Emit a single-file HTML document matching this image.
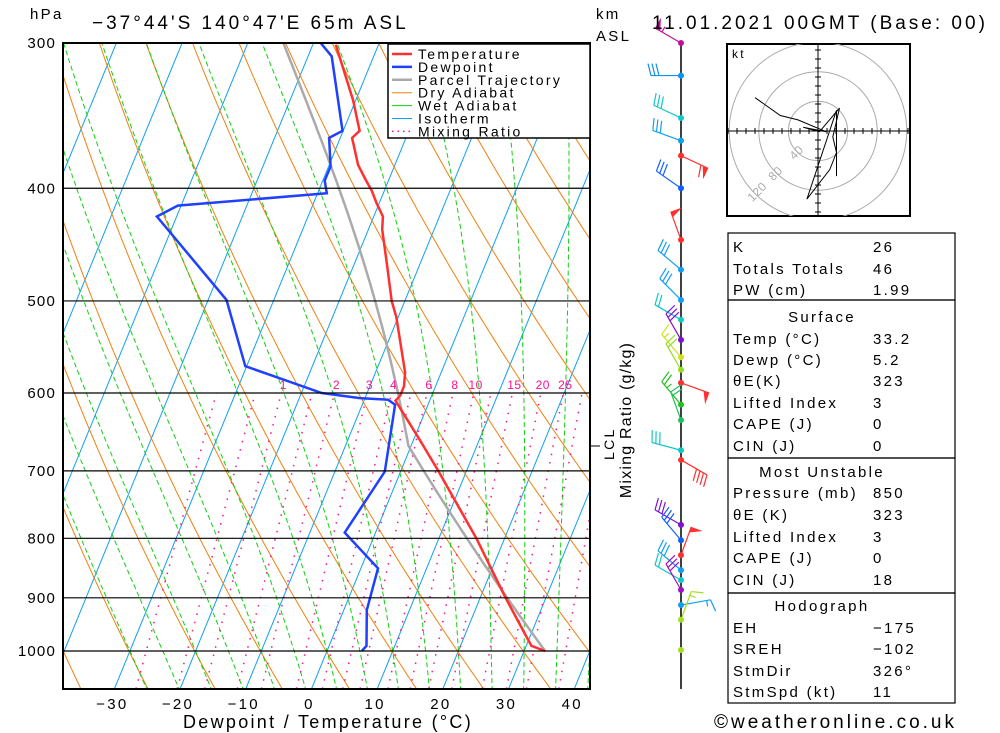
<!DOCTYPE html>
<html><head><meta charset="utf-8">
<style>
body{margin:0;background:#fff;}
svg{display:block;font-family:"Liberation Sans",sans-serif;}
svg text{letter-spacing:2.3px;}
svg text.big{letter-spacing:3px;}
svg text.mr{letter-spacing:0.5px;}
svg text.pl{letter-spacing:1.2px;}
</style></head>
<body>
<svg id="chart" width="1000" height="733" viewBox="0 0 1000 733" xmlns="http://www.w3.org/2000/svg">
<defs><clipPath id="plotclip"><rect x="63" y="43" width="527" height="646"/></clipPath>
<clipPath id="hodoclip"><rect x="727" y="44" width="183" height="172"/></clipPath></defs>
<rect x="0" y="0" width="1000" height="733" fill="#fff"/>
<g id="bg" clip-path="url(#plotclip)"></g>
<g id="prof" clip-path="url(#plotclip)"></g>
<g id="axes"></g>
<g id="legend">
 <rect x="388" y="44" width="202" height="94" fill="#fff" stroke="#000" stroke-width="1.5"/>
</g>
<g id="wind"></g>
<g id="hodo"></g>
<g id="table"></g>
<text x="30" y="19" font-size="15">hPa</text>
<text class="big" x="92" y="29" font-size="19">−37°44'S  140°47'E  65m  ASL</text>
<text x="596" y="19" font-size="15">km</text>
<text x="596" y="41" font-size="15">ASL</text>
<text class="big" x="652" y="29" font-size="19">11.01.2021  00GMT  (Base: 00)</text>
<text class="big" x="714" y="728" font-size="19">©weatheronline.co.uk</text>
<text x="328" y="728" font-size="18" text-anchor="middle">Dewpoint / Temperature (°C)</text>
<text class="pl" transform="translate(631,420) rotate(-90)" font-size="16" text-anchor="middle">Mixing Ratio (g/kg)</text>
<line x1="590" y1="446" x2="600" y2="446" stroke="#000"/>
<text transform="translate(614,460) rotate(-90)" font-size="14">LCL</text>
</svg>
<script>
// ---- data ----
const pressureLevels=[300,400,500,600,700,800,900,1000];
const tempTicks=[-30,-20,-10,0,10,20,30,40];
const tempP=[1000,990,962,898,801,700,658,609,603,592,576,516,500,464,434,423,412,402,394,382,362,357,336,301];
const tempT=[33.2,30.8,28.7,23.7,15.8,5.7,0.9,-5.2,-4.8,-4.8,-5.5,-10.3,-12.0,-15.1,-17.9,-18.6,-20.4,-21.9,-23.4,-25.6,-28.2,-27.5,-30.4,-36.5];
const dewP=[1000,990,922,849,791,701,614,608,606,600,569,499,423,414,404,394,383,362,357,308,300];
const dewT=[5.3,5.7,3.5,2.6,-4.7,-2.4,-5.0,-6.4,-10.8,-16.9,-30.2,-37.2,-53,-50.5,-28.6,-29.7,-29.7,-31.7,-30.1,-36.4,-38.9];
const mixValues=[0.4,0.7,1,1.5,2,3,4,5,6,8,10,12,15,20,25,30,40];
const mixLabels=[1,2,3,4,6,8,10,15,20,25];
const windP=[300,320,348,364,375,400,443,470,499,519,540,559,573,588,614,633,672,685,779,803,827,852,869,886,913,940,998];
const windDir=[300,270,295,290,115,305,340,310,315,300,330,320,330,110,320,340,285,120,300,320,20,310,300,330,80,20,0];
const windSpd=[55,30,30,30,60,30,50,30,30,20,30,15,20,50,25,20,30,40,30,30,50,30,20,30,15,15,0];
const windCol=['#c0109a','#1090f0','#10c8c8','#10a0f0','#ff3030','#1060ff','#ff3030','#10a0f0','#10a0f0','#10c8c8','#8010d0','#d0e020','#90e020','#ff3030','#20c020','#20c060','#10c8c8','#ff3030','#8010d0','#1060ff','#ff3030','#10a0f0','#10c8c8','#a010c0','#10a0f0','#a0e020','#a0e020'];
const hodoU=[-85,-51,-27,11,-20,2,29,20,25,16,-15,25,25];
const hodoV=[45,21,15,-1,5,-1,31,-8,-29,-52,-92,28,-61];
// ---- geometry ----
const NS='http://www.w3.org/2000/svg';
function yP(p){return 651-505*Math.log(1000/p);}
function xT(T,p){return 327+6.57*T+0.41*(651-yP(p));}
function mk(tag,attrs,parent){const e=document.createElementNS(NS,tag);for(const k in attrs)e.setAttribute(k,attrs[k]);parent.appendChild(e);return e;}
const bg=document.getElementById('bg'),prof=document.getElementById('prof'),axes=document.getElementById('axes');
function poly(pts,style,parent,name){const e=mk('polyline',Object.assign({points:pts.map(q=>q[0].toFixed(1)+','+q[1].toFixed(1)).join(' '),fill:'none'},style),parent);


return e;}
// isotherms
for(let T=-130;T<=50;T+=10){const a=mk('line',{x1:xT(T,1100),y1:yP(1100),x2:xT(T,280),y2:yP(280),stroke:'#10a0f0','stroke-width':1},bg);

}
// dry adiabats
for(let th=213;th<=500;th+=10){const pts=[];for(let p=1100;p>=280;p-=10){pts.push([xT(th*Math.pow(p/1000,0.286)-273.15,p),yP(p)]);}poly(pts,{stroke:'#f08010','stroke-width':1},bg,'dry-adiabat');}
// moist
function es(Tc){return 6.112*Math.exp(17.67*Tc/(Tc+243.5));}
function dTdp(Tc,p){const T=Tc+273.15,e=es(Tc),rs=0.622*e/(p-e),Rd=287,cp=1005,Lv=2.5e6;
return (Rd*T+Lv*rs)/(p*(cp+Lv*Lv*rs*0.622/(Rd*T*T)));}
function moist(T0,p0,p1,step){const pts=[];let T=T0;const s=p1<p0?-step:step;for(let p=p0;s<0?p>=p1:p<=p1;p+=s){pts.push([p,T]);T+=dTdp(T,p)*s;}return pts;}
for(let T0=-30;T0<=45;T0+=5){const up=moist(T0,1000,280,2),dn=moist(T0,1000,1100,2);
const all=dn.reverse().concat(up);poly(all.map(q=>[xT(q[1],q[0]),yP(q[0])]),{stroke:'#10d010','stroke-width':1,'stroke-dasharray':'5,3'},bg,'wet-adiabat');}
// mixing ratio
function tdFromW(w,p){const e=w*p/(622+w);const l=Math.log(e/6.112);return 243.5*l/(17.67-l);}
mixValues.forEach(w=>{poly([[xT(tdFromW(w,1078),1078),yP(1078)],[xT(tdFromW(w,600),600),yP(600)]],{stroke:'#ff1090','stroke-width':1.5,'stroke-dasharray':'1.5,7'},bg,'mixing-ratio-line');});
mixLabels.forEach(w=>{const t=mk('text',{x:xT(tdFromW(w,600),600)+2,y:389,'font-size':12,fill:'#ff1090','text-anchor':'middle','class':'mr'},axes);t.textContent=w;

});
// pressure lines
pressureLevels.forEach(p=>{const l=mk('line',{x1:63,x2:590,y1:yP(p),y2:yP(p),stroke:'#000','stroke-width':1.2},axes);


const t=mk('text',{x:56,y:yP(p)+5,'font-size':15,'text-anchor':'end','class':'pl'},axes);t.textContent=p;

});
tempTicks.forEach(T=>{const t=mk('text',{x:xT(T,1078)-2,y:709,'font-size':15,'text-anchor':'middle'},axes);t.textContent=(T<0?'−':'')+Math.abs(T);

});
const fr=mk('rect',{x:63,y:43,width:527,height:646,fill:'none',stroke:'#000','stroke-width':2},axes);


// parcel
(function(){const T0=tempT[0],th=(T0+273.15);const pts=[];let pl=666;for(let p=1000;p>=pl;p-=5)pts.push([xT(th*Math.pow(p/1000,0.286)-273.15,p),yP(p)]);
const Tl=th*Math.pow(pl/1000,0.286)-273.15;moist(Tl,pl,300,2).forEach(q=>pts.push([xT(q[1],q[0]),yP(q[0])]));
poly(pts,{stroke:'#aaaaaa','stroke-width':2.5},prof,'parcel-trajectory');})();
poly(tempP.map((p,i)=>[xT(tempT[i],p),yP(p)]),{stroke:'#ff3030','stroke-width':2.5},prof,'temperature-line');
poly(dewP.map((p,i)=>[xT(dewT[i],p),yP(p)]),{stroke:'#2040ff','stroke-width':2.5},prof,'dewpoint-line');
// legend
const lg=document.getElementById('legend');
[['Temperature','#ff3030',2.5,''],['Dewpoint','#2040ff',2.5,''],['Parcel Trajectory','#aaaaaa',2.5,''],['Dry Adiabat','#f08010',1,''],['Wet Adiabat','#10d010',1,''],['Isotherm','#10a0f0',1,''],['Mixing Ratio','#ff1090',1.5,'1.5,4']].forEach((it,i)=>{
const y=54+i*12.9;const l=mk('line',{x1:392,x2:412,y1:y,y2:y,stroke:it[1],'stroke-width':it[2]},lg);if(it[3])l.setAttribute('stroke-dasharray',it[3]);


const t=mk('text',{x:418,y:y+5,'font-size':14},lg);t.textContent=it[0];

});
// wind column
const wd=document.getElementById('wind');
const ax=mk('line',{x1:681,x2:681,y1:43,y2:689,stroke:'#000','stroke-width':1.5},wd);


windP.forEach((p,i)=>{const y=yP(p),c=windCol[i],d=windDir[i]*Math.PI/180,s=windSpd[i];
const g=mk('g',{},wd);


if(s>0){const ux=Math.sin(d),uy=-Math.cos(d),L=30;const ex=681+ux*L,ey=y+uy*L;
mk('line',{x1:681,y1:y,x2:ex,y2:ey,stroke:c,'stroke-width':1.2},g);
const px=-uy,py=ux;let rem=s,pos=0;
while(rem>=50){const bx=ex-ux*pos,by=ey-uy*pos;mk('polygon',{points:`${bx},${by} ${bx+px*12},${by+py*12} ${bx-ux*6},${by-uy*6}`,fill:c},g);pos+=8;rem-=50;}
while(rem>=10){const bx=ex-ux*pos,by=ey-uy*pos;mk('line',{x1:bx,y1:by,x2:bx+px*12+ux*3,y2:by+py*12+uy*3,stroke:c,'stroke-width':1.2},g);pos+=4;rem-=10;}
if(rem>=5){const bx=ex-ux*pos,by=ey-uy*pos;mk('line',{x1:bx,y1:by,x2:bx+px*6,y2:by+py*6,stroke:c,'stroke-width':1.2},g);}}
mk('circle',{cx:681,cy:y,r:3,fill:c},g);});
// hodograph
const hd=document.getElementById('hodo');const cx=818,cy=131,sc=0.74;
const hb=mk('rect',{x:727,y:44,width:183,height:172,fill:'#fff',stroke:'#000','stroke-width':2},hd);


const hg=mk('g',{'clip-path':'url(#hodoclip)'},hd);
[40,80,120].forEach(r=>{mk('circle',{cx:cx,cy:cy,r:r*sc,fill:'none',stroke:'#aaa','stroke-width':1},hg);
const a=Math.PI*0.75,t=mk('text',{x:cx+Math.cos(a)*r*sc-8,y:cy+Math.sin(a)*r*sc+4,'font-size':12,fill:'#aaa','class':'mr',transform:`rotate(-45 ${cx+Math.cos(a)*r*sc} ${cy+Math.sin(a)*r*sc})`},hg);t.textContent=r;

});
mk('line',{x1:727,x2:910,y1:cy,y2:cy,stroke:'#000'},hg);mk('line',{x1:cx,x2:cx,y1:44,y2:216,stroke:'#000'},hg);
for(let k=-12;k<=12;k++){if(!k)continue;const o=k*9;mk('line',{x1:cx+o,x2:cx+o,y1:cy-3,y2:cy+3,stroke:'#000'},hg);mk('line',{x1:cx-3,x2:cx+3,y1:cy+o,y2:cy+o,stroke:'#000'},hg);}
poly(hodoU.map((u,i)=>[cx+u*sc,cy-hodoV[i]*sc]),{stroke:'#000','stroke-width':1},hg,'hodograph-trace');
const kt=mk('text',{x:732,y:58,'font-size':12},hd);kt.textContent='kt';


// table
const tb=document.getElementById('table');
const rows=[['K','26',246],['Totals Totals','46',268],['PW (cm)','1.99',289],['#Surface','',316],['Temp (°C)','33.2',338],['Dewp (°C)','5.2',359],['θE(K)','323',380],['Lifted Index','3',402],['CAPE (J)','0',423],['CIN (J)','0',445],['#Most Unstable','',471],['Pressure (mb)','850',492],['θE (K)','323',514],['Lifted Index','3',536],['CAPE (J)','0',557],['CIN (J)','18',579],['#Hodograph','',605],['EH','−175',627],['SREH','−102',648],['StmDir','326°',670],['StmSpd (kt)','11',691]];
[[233,300],[300,458],[458,593],[593,703]].forEach(b=>{const r=mk('rect',{x:728,y:b[0],width:227,height:b[1]-b[0],fill:'none',stroke:'#000','stroke-width':1.2},tb);

});
rows.forEach(r=>{const hdr=r[0][0]==='#';const t=mk('text',{x:hdr?822:733,y:r[2]+6,'font-size':15,'text-anchor':hdr?'middle':'start'},tb);t.textContent=hdr?r[0].slice(1):r[0];


if(r[1]){const v=mk('text',{x:873,y:r[2]+6,'font-size':15},tb);v.textContent=r[1];

}});
</script>
</body></html>
